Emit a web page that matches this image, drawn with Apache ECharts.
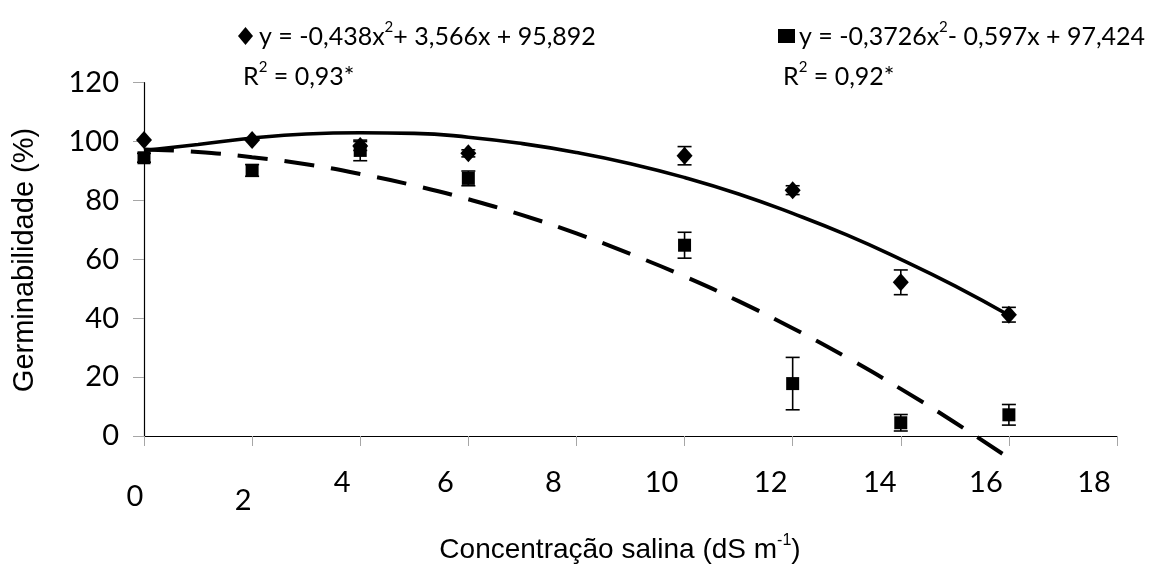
<!DOCTYPE html>
<html><head><meta charset="utf-8">
<script src="https://cdn.jsdelivr.net/npm/echarts@6/dist/echarts.min.js"></script>
<style>html,body{margin:0;padding:0;background:#fff}#c{width:1154px;height:564px}</style>
</head><body><div id="c"></div>
<script>
// ---- data ----
const xValues = [0, 2, 4, 6, 10, 12, 14, 16];
const series1 = [100.5, 100.5, 98.5, 96, 95.2, 83.5, 52.2, 41.2];
const error1 = [0, 0, 1.5, 1.2, 3.1, 1.5, 4.2, 2.5];
const series2 = [94.5, 90.2, 97, 87.5, 64.8, 17.8, 4.5, 7.2];
const error2 = [1.5, 2, 3.5, 2.5, 4.4, 8.9, 2.8, 3.5];
// trend curves at integer x
const curveX = [0, 1, 2, 3, 4, 5, 6, 7, 8, 9, 10, 11, 12, 13, 14, 15, 16];
const curve1 = [97, 99, 101.2, 102.6, 103, 102.8, 101.5, 99.3, 96.3, 92.5, 87.8, 82.2, 75.6, 68.3, 60, 51, 41];
const curve2 = [97.3, 96.5, 94.7, 92.3, 89, 85.1, 80.4, 75, 68.8, 61.8, 54.2, 45.8, 36.6, 26.7, 16, 4.6, -7.5];
const xTickLabels = ['0', '2', '4', '6', '8', '10', '12', '14', '16', '18'];
const yTickLabels = ['0', '20', '40', '60', '80', '100', '120'];
const eq1Text = ['y = -0,438x', '2', '+ 3,566x + 95,892'];
const eq2Text = ['y = -0,3726x', '2', '- 0,597x + 97,424'];
const r1Text = ['R', '2', ' = 0,93*'];
const r2Text = ['R', '2', ' = 0,92*'];
const xTitle = ['Concentração salina (dS m', '-1', ')'];
const yTitle = 'Germinabilidade (%)';

// ---- styles ----
const tickFont = 'Lato, "Liberation Sans", sans-serif';
const titleFont = '"Liberation Sans", Arial, sans-serif';
// per-label nudges of the x tick labels (reference layout)
const xLabelNudge = [[14, 18], [18, 18], [0, 36], [0, 46], [0, 46], [0, 46], [0, 44], [0, 42], [0, 46], [0, 46]];

const chart = echarts.init(document.getElementById('c'), null, {renderer: 'canvas'});

const xRich = {};
xLabelNudge.forEach((n, i) => {
  xRich['l' + i] = {fontSize: 29, fontFamily: tickFont, color: '#000', padding: [n[0], n[1], 0, 0]};
});

function eqRich(size) {
  return {
    m: {fontSize: size, fontFamily: tickFont, color: '#000'},
    s: {fontSize: Math.round(size * 0.6), fontFamily: tickFont, color: '#000', padding: [0, 0, Math.round(size * 0.75), 0]}
  };
}
function richStr(parts) { return '{m|' + parts[0] + '}{s|' + parts[1] + '}{m|' + parts[2] + '}'; }

function errorBarSeries(values, errors) {
  return {
    type: 'custom',
    silent: true,
    z: 4,
    encode: {x: 0, y: [1, 2]},
    data: xValues.map((x, i) => [x, values[i] - errors[i], values[i] + errors[i]]),
    renderItem(params, api) {
      const x = api.value(0);
      const lo = api.coord([x, api.value(1)]);
      const hi = api.coord([x, api.value(2)]);
      if (Math.abs(lo[1] - hi[1]) < 0.5) return null;
      const hw = 7;
      const st = {stroke: '#000', lineWidth: 1.6};
      return {type: 'group', children: [
        {type: 'line', shape: {x1: lo[0], y1: lo[1], x2: hi[0], y2: hi[1]}, style: st},
        {type: 'line', shape: {x1: lo[0] - hw, y1: lo[1], x2: lo[0] + hw, y2: lo[1]}, style: st},
        {type: 'line', shape: {x1: hi[0] - hw, y1: hi[1], x2: hi[0] + hw, y2: hi[1]}, style: st}
      ]};
    }
  };
}

chart.setOption({
  animation: false,
  backgroundColor: '#fff',
  grid: {left: 144, right: 37, top: 82.7, bottom: 128},
  xAxis: {
    type: 'value', min: 0, max: 18, interval: 2,
    axisLine: {show: true, onZero: false, lineStyle: {color: '#000', width: 1.2}},
    axisTick: {show: true, length: 10, inside: false, lineStyle: {color: '#a6a6a6', width: 1}},
    splitLine: {show: false},
    axisLabel: {
      margin: 32,
      formatter: (v) => { const i = Math.round(v / 2); return '{l' + i + '|' + xTickLabels[i] + '}'; },
      rich: xRich
    }
  },
  yAxis: {
    type: 'value', min: 0, max: 120, interval: 20,
    axisLine: {show: true, lineStyle: {color: '#000', width: 1.2}},
    axisTick: {show: true, length: 11, inside: false, lineStyle: {color: '#a6a6a6', width: 1}},
    splitLine: {show: false},
    axisLabel: {
      margin: 25, fontSize: 29, fontFamily: tickFont, color: '#000',
      formatter: (v) => yTickLabels[Math.round(v / 20)]
    }
  },
  graphic: [
    {type: 'polygon', shape: {points: [[245.5, 27], [253, 36], [245.5, 45], [238, 36]]}, style: {fill: '#000'}},
    {type: 'rect', shape: {x: 778, y: 29, width: 17, height: 14}, style: {fill: '#000'}},
    {type: 'text', left: 259, top: 20, style: {text: richStr(eq1Text), rich: eqRich(25)}},
    {type: 'text', left: 799, top: 20, style: {text: richStr(eq2Text), rich: eqRich(25)}},
    {type: 'text', left: 243, top: 60, style: {text: richStr(r1Text), rich: eqRich(25)}},
    {type: 'text', left: 783, top: 60, style: {text: richStr(r2Text), rich: eqRich(25)}},
    {type: 'text', x: 620, y: 550, style: {
      text: '{m|' + xTitle[0] + '}{s|' + xTitle[1] + '}{m|' + xTitle[2] + '}',
      align: 'center', verticalAlign: 'middle',
      rich: {
        m: {fontSize: 28, fontFamily: titleFont, color: '#000'},
        s: {fontSize: 16, fontFamily: titleFont, color: '#000', padding: [0, 0, 18, 0]}
      }
    }},
    {type: 'text', x: 25, y: 260, rotation: Math.PI / 2, style: {
      text: yTitle, align: 'center', verticalAlign: 'middle',
      fontSize: 29, fontFamily: titleFont, fill: '#000'
    }}
  ],
  series: [
    {
      type: 'line', data: curveX.map((x, i) => [x, curve1[i]]), smooth: true, showSymbol: false, clip: false,
      lineStyle: {color: '#000', width: 3.6}, z: 2, silent: true
    },
    {
      type: 'line', data: curveX.map((x, i) => [x, curve2[i]]), smooth: true, showSymbol: false, clip: false,
      lineStyle: {color: '#000', width: 4, type: [30, 17]}, z: 2, silent: true
    },
    errorBarSeries(series1, error1),
    errorBarSeries(series2, error2),
    {
      type: 'scatter', data: xValues.map((x, i) => [x, series1[i]]), symbol: 'diamond', symbolSize: [16, 18],
      itemStyle: {color: '#000', opacity: 1}, z: 5, silent: true
    },
    {
      type: 'scatter', data: xValues.map((x, i) => [x, series2[i]]), symbol: 'rect', symbolSize: [13, 13],
      itemStyle: {color: '#000', opacity: 1}, z: 5, silent: true
    }
  ]
});
</script>
</body></html>
